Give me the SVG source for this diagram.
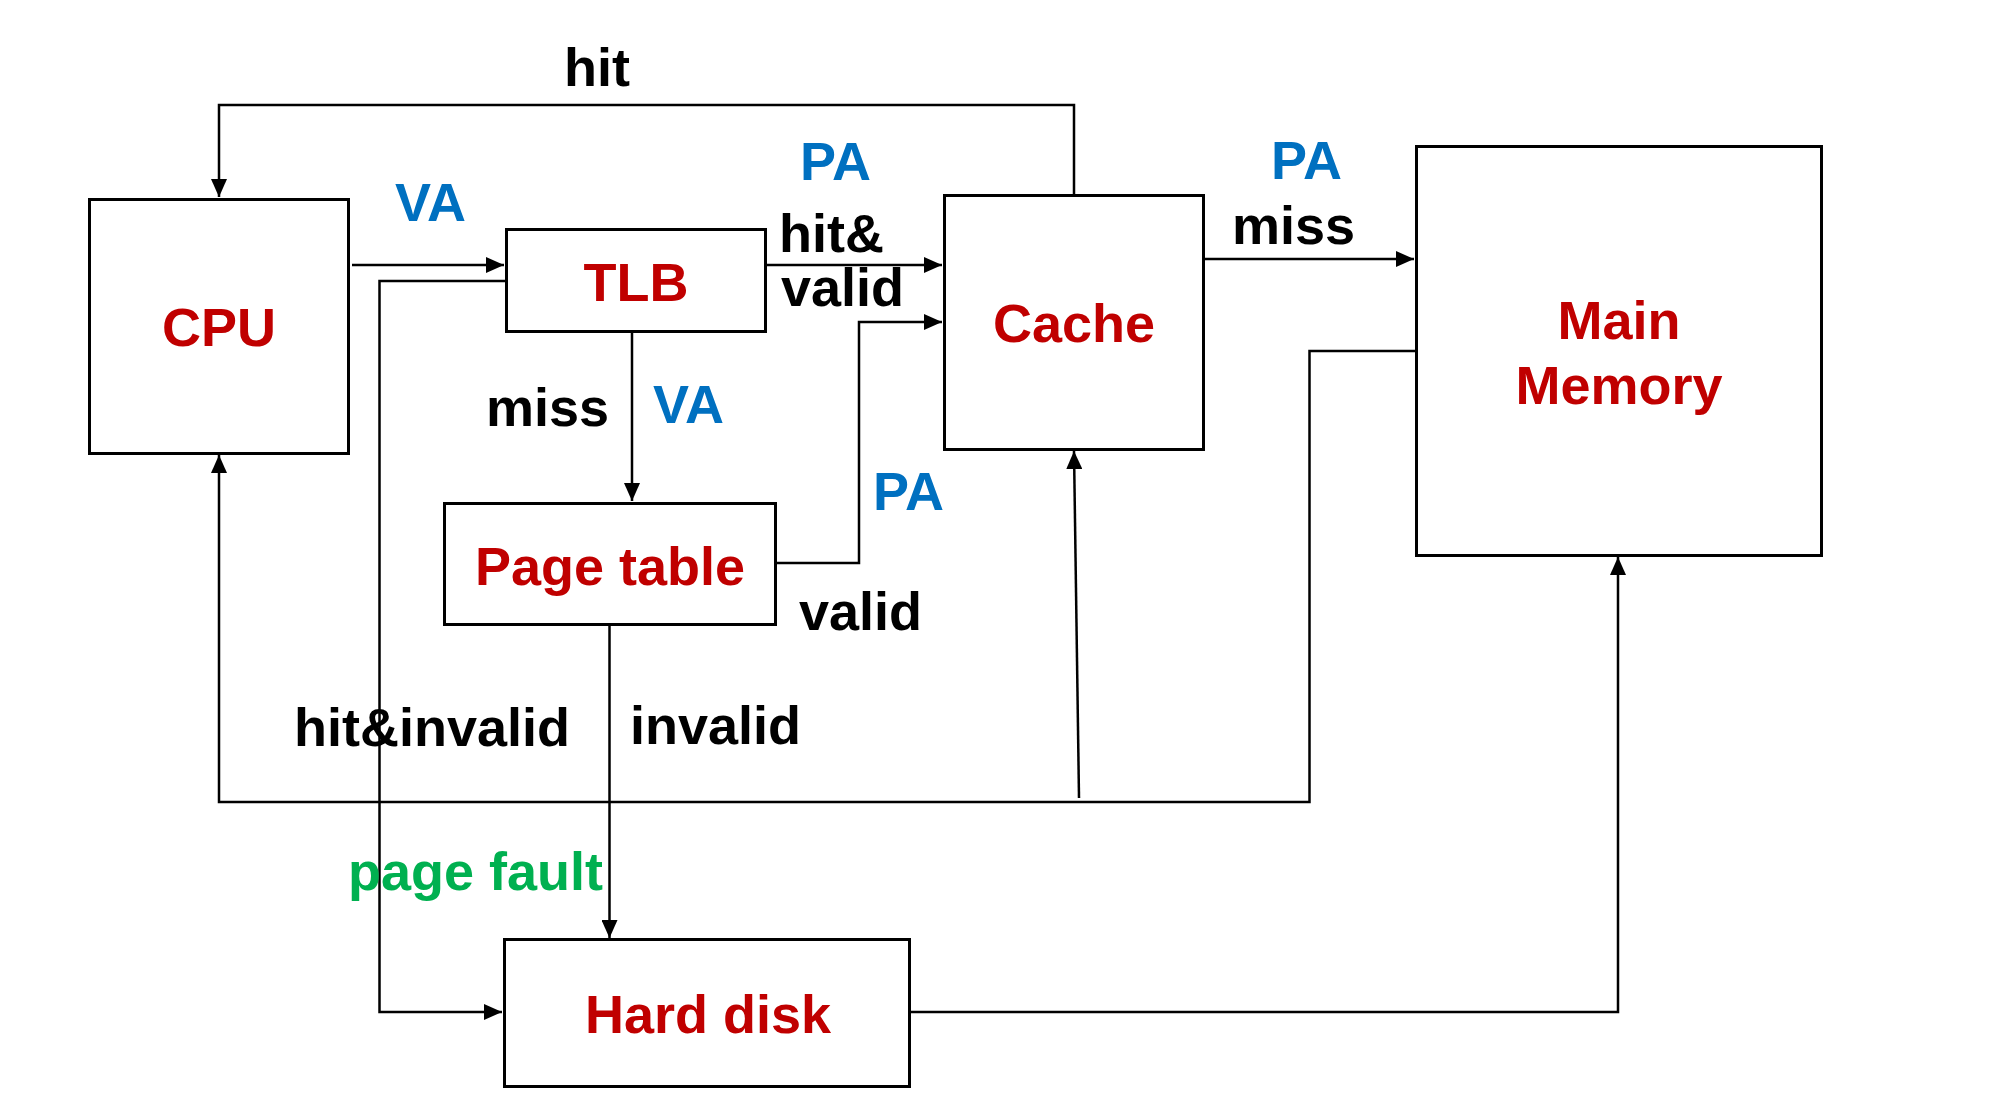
<svg xmlns="http://www.w3.org/2000/svg" width="2008" height="1100" viewBox="0 0 2008 1100">
<style>
.box{fill:#fff;stroke:#000;stroke-width:3}
.node{font-family:"Liberation Sans",Arial,sans-serif;font-weight:bold;font-size:54px;fill:#C00000;text-anchor:middle}
.lbl{font-family:"Liberation Sans",Arial,sans-serif;font-weight:bold;font-size:54px;fill:#000}
.blue{fill:#0070C0}
.green{fill:#00B050}
.c{fill:none;stroke:#000;stroke-width:2.5}
</style>
<defs>
<marker id="ah" markerUnits="userSpaceOnUse" markerWidth="18" markerHeight="16" refX="18" refY="8" orient="auto">
<path d="M0,0 L18,8 L0,16 Z" fill="#000"/>
</marker>
</defs>
<rect width="2008" height="1100" fill="#fff"/>
<g id="connectors">
<path class="c" d="M1074,195 V105 H219 V197" marker-end="url(#ah)"/>
<path class="c" d="M352,265 H504" marker-end="url(#ah)"/>
<path class="c" d="M764,265 H942" marker-end="url(#ah)"/>
<path class="c" d="M506,281 H379.5 V1012 H502" marker-end="url(#ah)"/>
<path class="c" d="M632,332 V501" marker-end="url(#ah)"/>
<path class="c" d="M775,563 H859 V322 H942" marker-end="url(#ah)"/>
<path class="c" d="M1203,259 H1414" marker-end="url(#ah)"/>
<path class="c" d="M1416,351 H1309.5 V802 H219 V455" marker-end="url(#ah)"/>
<path class="c" d="M1079,798 L1074,451" marker-end="url(#ah)"/>
<path class="c" d="M609.5,624 V938" marker-end="url(#ah)"/>
<path class="c" d="M909,1012 H1618 V557" marker-end="url(#ah)"/>
</g>
<g id="cpu">
<rect class="box" x="89.5" y="199.5" width="259" height="254"/>
<text class="node" x="219" y="346">CPU</text>
</g>
<g id="tlb">
<rect class="box" x="506.5" y="229.5" width="259" height="102"/>
<text class="node" x="636" y="301">TLB</text>
</g>
<g id="cache">
<rect class="box" x="944.5" y="195.5" width="259" height="254"/>
<text class="node" x="1074" y="342">Cache</text>
</g>
<g id="main-memory">
<rect class="box" x="1416.5" y="146.5" width="405" height="409"/>
<text class="node" x="1619" y="339">Main</text>
<text class="node" x="1619" y="404">Memory</text>
</g>
<g id="page-table">
<rect class="box" x="444.5" y="503.5" width="331" height="121"/>
<text class="node" x="610" y="585">Page table</text>
</g>
<g id="hard-disk">
<rect class="box" x="504.5" y="939.5" width="405" height="147"/>
<text class="node" x="708" y="1033">Hard disk</text>
</g>
<g id="labels">
<text class="lbl" x="564" y="86">hit</text>
<text class="lbl blue" x="395" y="221">VA</text>
<text class="lbl blue" x="800" y="180">PA</text>
<text class="lbl" x="779" y="252">hit&amp;</text>
<text class="lbl" x="781" y="306">valid</text>
<text class="lbl blue" x="1271" y="179">PA</text>
<text class="lbl" x="1232" y="244">miss</text>
<text class="lbl" x="486" y="426">miss</text>
<text class="lbl blue" x="653" y="423">VA</text>
<text class="lbl blue" x="873" y="510">PA</text>
<text class="lbl" x="799" y="630">valid</text>
<text class="lbl" x="294" y="746">hit&amp;invalid</text>
<text class="lbl" x="630" y="744">invalid</text>
<text class="lbl green" x="348" y="890">page fault</text>
</g>
</svg>
